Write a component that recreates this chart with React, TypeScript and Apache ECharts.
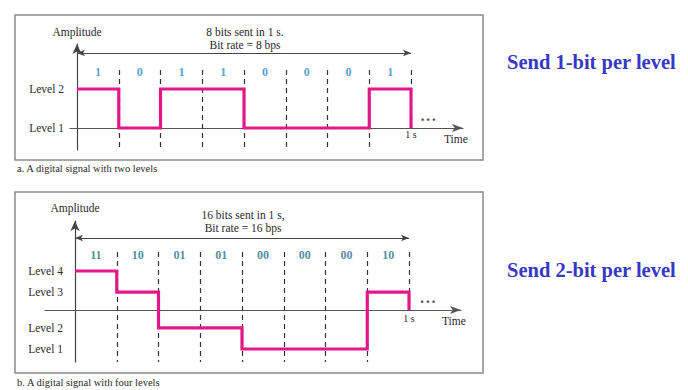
import React, { useEffect, useRef } from "react";
import * as echarts from "echarts";

// ---- data ----
const topBits = ["1", "0", "1", "1", "0", "0", "0", "1"];
const topLevelNames = ["Level 1", "Level 2"];
const topLevelValues = [0, 1]; // amplitude of Level 1, Level 2
const topBitToLevel: Record<string, number> = { "0": 0, "1": 1 };

const botBits = ["11", "10", "01", "01", "00", "00", "00", "10"];
const botLevelNames = ["Level 1", "Level 2", "Level 3", "Level 4"];
const botLevelValues = [-1, -0.46, 0.46, 1];
const botBitToLevel: Record<string, number> = { "00": 0, "01": 1, "10": 2, "11": 3 };

const boundaries = [1, 2, 3, 4, 5, 6, 7, 8];
const endTickLabel = "1 s";
const topHeader = ["8 bits sent in 1 s.", "Bit rate = 8 bps"];
const botHeader = ["16 bits sent in 1 s,", "Bit rate = 16 bps"];
const topCaption = "a. A digital signal with two levels";
const botCaption = "b. A digital signal with four levels";
const sideNotes = ["Send 1-bit per level", "Send 2-bit per level"];

const PINK = "#e3178a";
const SERIF = "'Liberation Serif', 'DejaVu Serif', serif";
const TXT = "#2a2a2a";

function stepData(bits: string[], map: Record<string, number>, vals: number[]) {
  const pts: number[][] = bits.map((b, i) => [i, vals[map[b]]]);
  const last = vals[map[bits[bits.length - 1]]];
  pts.push([bits.length, last]);
  pts.push([bits.length, 0]);
  return pts;
}

function panel(
  idx: number,
  bits: string[],
  map: Record<string, number>,
  vals: number[],
  bitColor: string,
  labelY: number,
  dashTop: number,
  dashBottom: number,
  spanY: number,
  dotsPos: number[]
) {
  const lastB = boundaries[boundaries.length - 1];
  return [
    {
      type: "line",
      xAxisIndex: idx,
      yAxisIndex: idx,
      step: "end",
      symbol: "none",
      data: stepData(bits, map, vals),
      lineStyle: { color: PINK, width: 3.2, cap: "butt", join: "miter" },
      z: 5,
      markLine: {
        silent: true,
        symbol: "none",
        label: { show: false },
        lineStyle: { color: "#333", width: 1.2, type: [5, 4] },
        data: boundaries.map((b) => [
          { coord: [b, dashTop] },
          { coord: [b, b === lastB ? 0 : dashBottom] },
        ]),
        z: 2,
      },
    },
    {
      type: "line",
      xAxisIndex: idx,
      yAxisIndex: idx,
      data: [],
      markLine: {
        silent: true,
        symbol: ["arrow", "arrow"],
        symbolSize: [5, 8],
        label: { show: false },
        lineStyle: { color: "#444", width: 1, type: "solid" },
        data: [[{ coord: [0, spanY] }, { coord: [bits.length, spanY] }]],
      },
    },
    {
      type: "scatter",
      xAxisIndex: idx,
      yAxisIndex: idx,
      symbolSize: 0,
      clip: false,
      data: bits.map((b, i) => ({ name: b, value: [i + 0.5, labelY] })),
      label: {
        show: true,
        position: "inside",
        formatter: (p: any) => p.name,
        color: bitColor,
        fontWeight: "bold",
        fontFamily: SERIF,
        fontSize: 12,
      },
    },
    {
      type: "scatter",
      xAxisIndex: idx,
      yAxisIndex: idx,
      symbolSize: 0,
      clip: false,
      data: [{ name: "• • •", value: dotsPos }],
      label: {
        show: true,
        position: "inside",
        formatter: (p: any) => p.name,
        color: "#222",
        fontWeight: "bold",
        fontSize: 9,
      },
    },
  ];
}

function axes(
  idx: number,
  xmin: number,
  xmax: number,
  ymin: number,
  ymax: number,
  levelVals: number[],
  levelNames: string[],
  nameGap: number,
  xLabelMargin: number,
  yLabelMargin: number
) {
  const xAxis = {
    type: "value",
    gridIndex: idx,
    min: xmin,
    max: xmax,
    splitLine: { show: false },
    axisTick: { show: false },
    axisLine: {
      onZero: true,
      symbol: ["none", "arrow"],
      symbolSize: [6, 11],
      lineStyle: { color: "#555", width: 1.2 },
    },
    axisLabel: {
      customValues: [boundaries[boundaries.length - 1]],
      formatter: () => endTickLabel,
      margin: xLabelMargin,
      color: TXT,
      fontFamily: SERIF,
      fontSize: 10,
    },
    name: "Time",
    nameLocation: "end",
    nameGap: -19,
    nameTextStyle: {
      color: TXT,
      fontFamily: SERIF,
      fontSize: 11.5,
      align: "left",
      verticalAlign: "top",
      padding: [5, 0, 0, 0],
    },
  };
  const yAxis = {
    type: "value",
    gridIndex: idx,
    min: ymin,
    max: ymax,
    splitLine: { show: false },
    axisTick: { show: false },
    axisLine: {
      onZero: true,
      symbol: ["none", "arrow"],
      symbolSize: [7, 10],
      lineStyle: { color: "#444", width: 1.2 },
    },
    axisLabel: {
      customValues: levelVals,
      formatter: (v: number) => {
        let k = 0;
        let best = Infinity;
        levelVals.forEach((lv, i) => {
          if (Math.abs(lv - v) < best) {
            best = Math.abs(lv - v);
            k = i;
          }
        });
        return levelNames[k];
      },
      margin: yLabelMargin,
      color: TXT,
      fontFamily: SERIF,
      fontSize: 11.5,
    },
    name: "Amplitude",
    nameLocation: "end",
    nameGap: nameGap,
    nameTextStyle: { color: TXT, fontFamily: SERIF, fontSize: 11.5, align: "center" },
  };
  return { xAxis, yAxis };
}

export default function App() {
  const ref = useRef<HTMLDivElement>(null);
  useEffect(() => {
    if (!ref.current) return;
    const chart = echarts.init(ref.current, undefined, { renderer: "svg" });
    const a0 = axes(0, -0.168, 9.245, -0.564, 2.154, topLevelValues, topLevelNames, 6, -21, 6);
    const a1 = axes(1, -0.7186, 9.245, -1.333, 2.282, botLevelValues, botLevelNames, 7, -49, -18);
    const textEl = (text: string, x: number, y: number, size: number, extra: any = {}) => ({
      type: "text",
      x,
      y,
      silent: true,
      style: {
        text,
        fill: extra.fill || TXT,
        fontSize: size,
        fontFamily: SERIF,
        fontWeight: extra.fontWeight || "normal",
        align: extra.align || "center",
        textAlign: extra.align || "center",
        verticalAlign: "middle",
        textVerticalAlign: "middle",
      },
    });
    const option: any = {
      animation: false,
      backgroundColor: "#ffffff",
      grid: [
        { left: 70, top: 44, width: 393, height: 106 },
        { left: 45, top: 221, width: 416, height: 141 },
      ],
      xAxis: [a0.xAxis, a1.xAxis],
      yAxis: [a0.yAxis, a1.yAxis],
      series: [
        ...panel(0, topBits, topBitToLevel, topLevelValues, "#2a86c4", 1.436, 1.49, -0.564, 1.923, [8.41, 0.205]),
        ...panel(1, botBits, botBitToLevel, botLevelValues, "#1f6f8c", 1.41, 1.49, -1.333, 1.846, [8.45, 0.205]),
      ],
      graphic: [
        {
          type: "rect",
          silent: true,
          shape: { x: 15, y: 15, width: 468, height: 145 },
          style: { fill: "none", stroke: "#8a8a8a", lineWidth: 1.5 },
        },
        {
          type: "rect",
          silent: true,
          shape: { x: 15, y: 192, width: 468, height: 181 },
          style: { fill: "none", stroke: "#8a8a8a", lineWidth: 1.5 },
        },
        textEl(topHeader[0], 245, 32, 11.5),
        textEl(topHeader[1], 245, 44.5, 11.5),
        textEl(botHeader[0], 243, 215, 11.5),
        textEl(botHeader[1], 243, 228, 11.5),
        textEl(topCaption, 17, 168, 10.5, { align: "left" }),
        textEl(botCaption, 17, 382, 10.5, { align: "left" }),
        textEl(sideNotes[0], 507, 62, 20.5, { align: "left", fill: "#3838c6", fontWeight: "bold" }),
        textEl(sideNotes[1], 507, 270, 20.5, { align: "left", fill: "#3838c6", fontWeight: "bold" }),
      ],
    };
    chart.setOption(option);
    return () => chart.dispose();
  }, []);
  return (
    <div
      ref={ref}
      style={{ position: "fixed", left: 0, top: 0, width: 688, height: 390, background: "#fff" }}
    />
  );
}
